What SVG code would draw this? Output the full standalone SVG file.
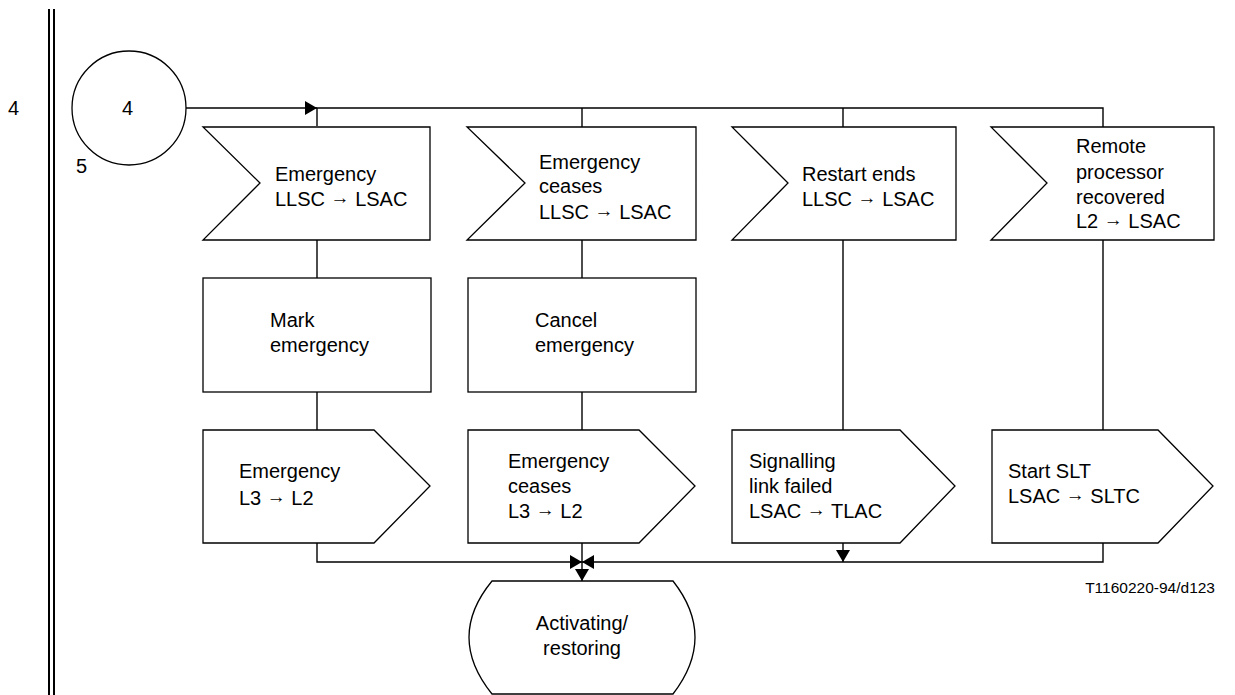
<svg xmlns="http://www.w3.org/2000/svg" width="1235" height="695" viewBox="0 0 1235 695">
<style>
text{font-family:"Liberation Sans",Arial,sans-serif;font-size:20px;fill:#000}
.sh{fill:#fff;stroke:#000;stroke-width:1.3}
.ln{fill:none;stroke:#000;stroke-width:1.4}
.ar{font-size:19px}
.ref{font-size:15.5px}
</style>
<defs>
<marker id="ah" viewBox="0 0 12 14" refX="12" refY="7" markerWidth="12" markerHeight="14" markerUnits="userSpaceOnUse" orient="auto">
<path d="M0,0 L12,7 L0,14 Z" fill="#000"/>
</marker>
</defs>
<rect width="1235" height="695" fill="#fff"/>
<g id="border">
<line x1="49" y1="9" x2="49" y2="695" stroke="#000" stroke-width="2"/>
<line x1="54" y1="9" x2="54" y2="695" stroke="#000" stroke-width="2"/>
<text x="8" y="115">4</text>
</g>
<g id="connectors">
<line class="ln" x1="186" y1="108" x2="317" y2="108" stroke-width="2" marker-end="url(#ah)"/>
<polyline class="ln" points="317,126 317,108 1103,108 1103,127"/>
<line class="ln" x1="582" y1="108" x2="582" y2="127"/>
<line class="ln" x1="843" y1="108" x2="843" y2="127"/>
<line class="ln" x1="317" y1="240" x2="317" y2="278"/>
<line class="ln" x1="582" y1="240" x2="582" y2="278"/>
<line class="ln" x1="317" y1="392" x2="317" y2="430"/>
<line class="ln" x1="582" y1="392" x2="582" y2="430"/>
<line class="ln" x1="843" y1="240" x2="843" y2="430"/>
<line class="ln" x1="1103" y1="240" x2="1103" y2="430"/>
<polyline class="ln" points="317,543 317,562 582,562" marker-end="url(#ah)"/>
<polyline class="ln" points="1103,543 1103,562 582,562" marker-end="url(#ah)"/>
<line class="ln" x1="582" y1="543" x2="582" y2="581" marker-end="url(#ah)"/>
<line class="ln" x1="843" y1="543" x2="843" y2="562" marker-end="url(#ah)"/>
</g>
<g id="start">
<circle class="sh" cx="129" cy="108" r="57"/>
<text x="122" y="115">4</text>
<text x="76" y="173">5</text>
</g>
<g id="in1">
<polygon class="sh" points="203,127 430,127 430,240 203,240 260,183"/>
<text x="275" y="181">Emergency</text>
<text x="275" y="206">LLSC <tspan class="ar" dy="-2">→</tspan><tspan dy="2">  LSAC</tspan></text>
</g>
<g id="in2">
<polygon class="sh" points="467,127 696,127 696,240 467,240 525,183"/>
<text x="539" y="169">Emergency</text>
<text x="539" y="193">ceases</text>
<text x="539" y="219">LLSC <tspan class="ar" dy="-2">→</tspan><tspan dy="2">  LSAC</tspan></text>
</g>
<g id="in3">
<polygon class="sh" points="732,127 956,127 956,240 732,240 788,183"/>
<text x="802" y="181">Restart ends</text>
<text x="802" y="206">LLSC <tspan class="ar" dy="-2">→</tspan><tspan dy="2">  LSAC</tspan></text>
</g>
<g id="in4">
<polygon class="sh" points="991,127 1214,127 1214,240 991,240 1047,183"/>
<text x="1076" y="153">Remote</text>
<text x="1076" y="179">processor</text>
<text x="1076" y="204">recovered</text>
<text x="1076" y="228">L2 <tspan class="ar" dy="-2">→</tspan><tspan dy="2">  LSAC</tspan></text>
</g>
<g id="task1">
<rect class="sh" x="203" y="278" width="228" height="114"/>
<text x="270" y="327">Mark</text>
<text x="270" y="352">emergency</text>
</g>
<g id="task2">
<rect class="sh" x="468" y="278" width="228" height="114"/>
<text x="535" y="327">Cancel</text>
<text x="535" y="352">emergency</text>
</g>
<g id="out1">
<polygon class="sh" points="203,430 374,430 430,486 374,543 203,543"/>
<text x="239" y="478">Emergency</text>
<text x="239" y="505">L3 <tspan class="ar" dy="-2">→</tspan><tspan dy="2">  L2</tspan></text>
</g>
<g id="out2">
<polygon class="sh" points="468,430 639,430 695,486 639,543 468,543"/>
<text x="508" y="468">Emergency</text>
<text x="508" y="493">ceases</text>
<text x="508" y="518">L3 <tspan class="ar" dy="-2">→</tspan><tspan dy="2">  L2</tspan></text>
</g>
<g id="out3">
<polygon class="sh" points="732,430 900,430 955,486 900,543 732,543"/>
<text x="749" y="468">Signalling</text>
<text x="749" y="493">link failed</text>
<text x="749" y="518">LSAC <tspan class="ar" dy="-2">→</tspan><tspan dy="2">  TLAC</tspan></text>
</g>
<g id="out4">
<polygon class="sh" points="992,430 1158,430 1213,486 1158,543 992,543"/>
<text x="1008" y="478">Start SLT</text>
<text x="1008" y="503">LSAC <tspan class="ar" dy="-2">→</tspan><tspan dy="2">  SLTC</tspan></text>
</g>
<g id="state">
<path class="sh" d="M492,581 L673,581 Q717,637 673,694 L492,694 Q446,637 492,581 Z"/>
<text x="582" y="630" text-anchor="middle">Activating/</text>
<text x="582" y="655" text-anchor="middle">restoring</text>
</g>
<text class="ref" x="1215" y="593" text-anchor="end">T1160220-94/d123</text>
</svg>
